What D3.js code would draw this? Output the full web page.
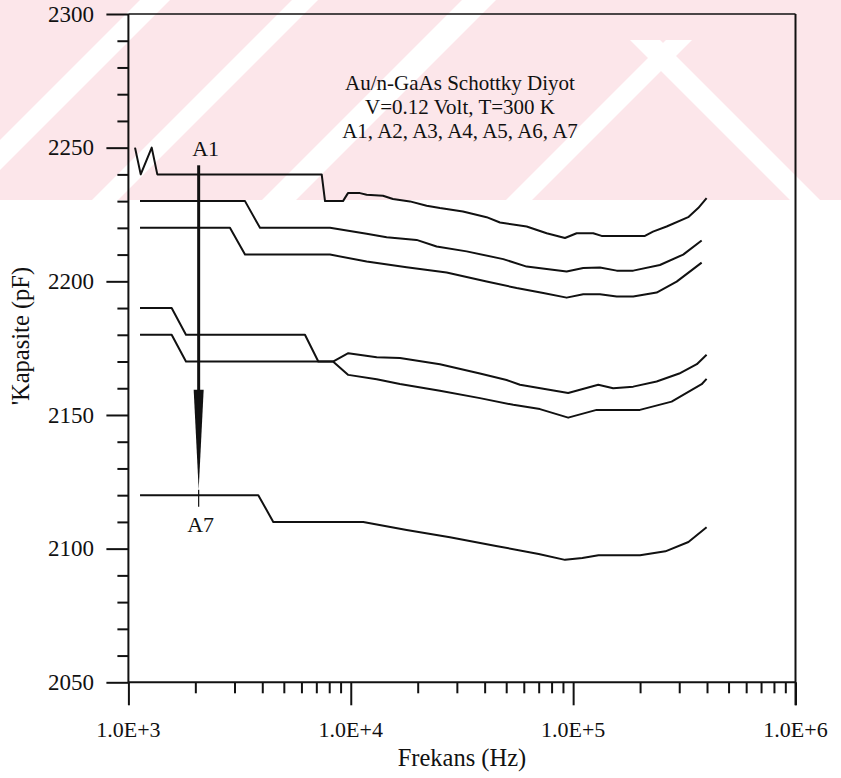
<!DOCTYPE html>
<html>
<head>
<meta charset="utf-8">
<script src="https://cdn.jsdelivr.net/npm/d3@7"></script>
<style>
  body { margin: 0; background: #ffffff; }
  text { font-family: "Liberation Serif", "Times New Roman", serif; fill: #111; }
</style>
</head>
<body>
<svg id="chart" width="841" height="778"></svg>
<script>
// Frequency (Hz) and capacitance (pF) for each curve
const freqA1 = [1071, 1136, 1273, 1349, 7400, 7660, 9226, 9714, 11000, 11790, 13960, 15480, 18460, 21940, 25180, 31950, 40830, 46880, 61810, 76030, 91900, 103700, 123100, 134300, 210300, 228600, 263300, 329200, 365100, 398300];
const capA1  = [2250, 2240, 2250, 2240, 2240, 2230, 2230, 2233, 2233, 2232.4, 2232, 2230.8, 2229.9, 2228.3, 2227.4, 2226.1, 2224, 2222, 2220.5, 2218, 2216.2, 2218, 2218, 2217, 2217, 2218.6, 2220.5, 2224, 2227.4, 2231.1];

const freqA2 = [1128, 3345, 3906, 8065, 11790, 14500, 19770, 24330, 33200, 48500, 61810, 93500, 111000, 132000, 157000, 186300, 245600, 312500, 378400];
const capA2  = [2230, 2230, 2220, 2220, 2217.8, 2216.5, 2215.5, 2213, 2211.2, 2208.3, 2205.5, 2203.7, 2205, 2205.2, 2204, 2204, 2206.1, 2210, 2215.3];

const freqA3 = [1128, 2862, 3345, 8065, 11790, 17830, 26980, 40830, 55700, 73400, 93500, 111000, 132000, 157000, 186300, 237400, 292100, 378400];
const capA3  = [2220, 2220, 2210, 2210, 2207.4, 2205.3, 2203.3, 2199.9, 2197.5, 2195.6, 2193.9, 2195.2, 2195.2, 2194.3, 2194.3, 2195.8, 2199.9, 2207];

const freqA4 = [1128, 1565, 1815, 6223, 7145, 8318, 9746, 13080, 16640, 25180, 38100, 50200, 57650, 95000, 129700, 151400, 186300, 237400, 300000, 360000, 398300];
const capA4  = [2190, 2190, 2180, 2180, 2170, 2170, 2173.1, 2171.6, 2171.3, 2169, 2165.5, 2163.1, 2161.3, 2158.2, 2161.3, 2160, 2160.6, 2162.5, 2165.5, 2169, 2172.5];

const freqA5 = [1128, 1565, 1815, 8318, 9746, 13080, 16640, 25180, 38100, 53800, 70900, 95000, 127500, 199600, 277300, 378400, 398300];
const capA5  = [2180, 2180, 2170, 2170, 2165, 2163.4, 2161.6, 2159.1, 2156.3, 2153.8, 2152.2, 2149, 2151.9, 2151.9, 2155, 2161.5, 2163.5];

const freqA7 = [1128, 3838, 4483, 11380, 17840, 27920, 45000, 70000, 91900, 110000, 130000, 200000, 260000, 330000, 398300];
const capA7  = [2120, 2120, 2110, 2110, 2107, 2104.3, 2101, 2098, 2095.8, 2096.5, 2097.5, 2097.5, 2099, 2102.5, 2108];

const xTickLabels = ["1.0E+3", "1.0E+4", "1.0E+5", "1.0E+6"];
const xTickValues = [1e3, 1e4, 1e5, 1e6];
const yTickValues = [2050, 2100, 2150, 2200, 2250, 2300];

const noteLines = ["Au/n-GaAs Schottky Diyot", "V=0.12 Volt, T=300 K", "A1, A2, A3, A4, A5, A6, A7"];

// Arrow from A1 down to A7
const arrowFreq = 2070;
const arrowCap = [2243.4, 2159.4, 2122, 2115.7]; // stem top, head base, head tip, tail end

const series = [
  [freqA1, capA1], [freqA2, capA2], [freqA3, capA3],
  [freqA4, capA4], [freqA5, capA5], [freqA7, capA7]
];

const svg = d3.select("#chart");
const W = 841, H = 778;

// ---- pale diagonal banner across the top
const bandBottom = 200;
const wm = svg.append("g");
wm.append("rect").attr("x", 0).attr("y", 0).attr("width", W).attr("height", bandBottom).attr("fill", "#fce6ea");
// "/" gaps: x where the gap meets the band bottom, gap width, top y of the gap
const slashGaps = [[-60, 30, 0], [92, 26, 0], [262, 34, 0], [506, 26, 40]];
// "\" gaps: x where the gap meets the band bottom, gap width, top y
const backGaps = [[790, 30, 40]];
slashGaps.forEach(([x0, w, top]) => {
  const h = bandBottom - top;
  wm.append("polygon").attr("fill", "#fff")
    .attr("points", [[x0, bandBottom], [x0 + w, bandBottom], [x0 + w + h, top], [x0 + h, top]].join(" "));
});
backGaps.forEach(([x0, w, top]) => {
  const h = bandBottom - top;
  wm.append("polygon").attr("fill", "#fff")
    .attr("points", [[x0, bandBottom], [x0 + w, bandBottom], [x0 + w - h, top], [x0 - h, top]].join(" "));
});

// ---- scales
const x = d3.scaleLog().domain([1e3, 1e6]).range([128.4, 795.5]);
const y = d3.scaleLinear().domain([2050, 2300]).range([682.3, 14]);

const axisColor = "#111";

// minor ticks
const yMinor = d3.range(2060, 2300, 10).filter(v => v % 50 !== 0);
const xMinor = [];
[1e3, 1e4, 1e5].forEach(d => { for (let k = 2; k <= 9; k++) xMinor.push(d * k); });

const gy = svg.append("g").attr("transform", `translate(${x(1e3)},0)`);
gy.call(d3.axisLeft(y).tickValues(yTickValues).tickSize(22).tickFormat(""));
const gyMinor = svg.append("g").attr("transform", `translate(${x(1e3)},0)`);
gyMinor.call(d3.axisLeft(y).tickValues(yMinor).tickSize(11).tickFormat(""));

const gx = svg.append("g").attr("transform", `translate(0,${y(2050)})`);
gx.call(d3.axisBottom(x).tickValues(xTickValues).tickSize(23).tickFormat(""));
const gxMinor = svg.append("g").attr("transform", `translate(0,${y(2050)})`);
gxMinor.call(d3.axisBottom(x).tickValues(xMinor).tickSize(11).tickFormat(""));

[gy, gyMinor, gx, gxMinor].forEach(g => {
  g.select(".domain").remove();
  g.selectAll(".tick line").attr("stroke", axisColor).attr("stroke-width", 2);
});

// frame lines
const frame = svg.append("g").attr("stroke", axisColor).attr("stroke-width", 2);
frame.append("line").attr("x1", x(1e3)).attr("x2", x(1e3)).attr("y1", y(2300)).attr("y2", y(2050));
frame.append("line").attr("x1", x(1e3)).attr("x2", x(1e6)).attr("y1", y(2050)).attr("y2", y(2050));
frame.append("line").attr("x1", x(1e3)).attr("x2", x(1e6)).attr("y1", y(2300)).attr("y2", y(2300)).attr("stroke-width", 1.6);
frame.append("line").attr("x1", x(1e6)).attr("x2", x(1e6)).attr("y1", y(2300)).attr("y2", y(2050) + 23);

// tick labels
svg.append("g").selectAll("text").data(yTickValues).join("text")
  .attr("x", 94).attr("y", d => y(d)).attr("dy", "0.33em")
  .attr("text-anchor", "end").attr("font-size", 23).text(d => d);
svg.append("g").selectAll("text").data(xTickValues).join("text")
  .attr("x", d => x(d)).attr("y", 737)
  .attr("text-anchor", "middle").attr("font-size", 22).text((d, i) => xTickLabels[i]);

// axis titles
svg.append("text").attr("x", (x(1e3) + x(1e6)) / 2).attr("y", 766)
  .attr("text-anchor", "middle").attr("font-size", 24.5).text("Frekans (Hz)");
svg.append("text").attr("transform", `translate(29,${(y(2050) + y(2300)) / 2 - 12}) rotate(-90)`)
  .attr("text-anchor", "middle").attr("font-size", 24.5).text("'Kapasite (pF)");

// curves
const line = d3.line().x(d => x(d[0])).y(d => y(d[1]));
svg.append("g").selectAll("path").data(series).join("path")
  .attr("d", ([f, c]) => line(f.map((v, i) => [v, c[i]])))
  .attr("fill", "none").attr("stroke", "#111").attr("stroke-width", 2)
  .attr("stroke-linejoin", "round");

// note block
svg.append("g").selectAll("text").data(noteLines).join("text")
  .attr("x", 460).attr("y", (d, i) => 90 + i * 24)
  .attr("text-anchor", "middle").attr("font-size", 21).text(d => d);

// arrow
const ax = x(arrowFreq);
svg.append("line").attr("x1", ax).attr("x2", ax).attr("y1", y(arrowCap[0])).attr("y2", y(arrowCap[1]) + 2)
  .attr("stroke", "#111").attr("stroke-width", 3);
svg.append("polygon").attr("fill", "#111")
  .attr("points", [[ax - 5, y(arrowCap[1])], [ax + 5, y(arrowCap[1])], [ax, y(arrowCap[2])]].join(" "));
svg.append("line").attr("x1", ax).attr("x2", ax).attr("y1", y(arrowCap[2])).attr("y2", y(arrowCap[3]))
  .attr("stroke", "#111").attr("stroke-width", 1.2);

svg.append("text").attr("x", ax + 7).attr("y", y(2250) + 8).attr("text-anchor", "middle").attr("font-size", 22).text("A1");
svg.append("text").attr("x", ax + 2).attr("y", 532).attr("text-anchor", "middle").attr("font-size", 22).text("A7");
</script>
</body>
</html>
